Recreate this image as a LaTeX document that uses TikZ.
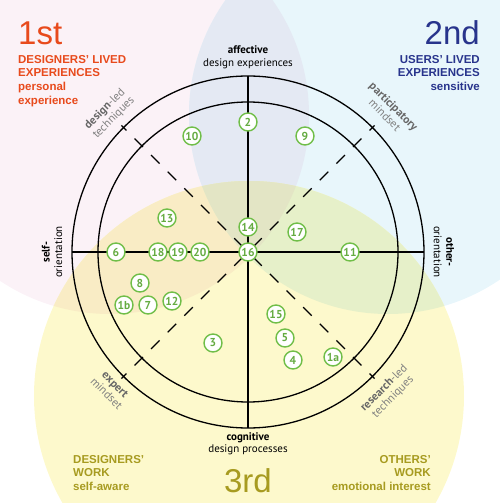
\documentclass[tikz,border=0pt]{standalone}
\usepackage{fontspec}
\setmainfont{PT Sans}
\newfontfamily\headfont{Liberation Sans}
\usetikzlibrary{positioning, calc}
\definecolor{firstred}{RGB}{232,74,28}
\definecolor{secondblue}{RGB}{40,52,140}
\definecolor{thirdolive}{RGB}{167,155,32}
\definecolor{pinkbg}{RGB}{251,242,247}
\definecolor{bluebg}{RGB}{232,246,251}
\definecolor{yellowbg}{RGB}{253,249,204}
\definecolor{pinkblue}{RGB}{228,233,243}
\definecolor{pinkyellow}{RGB}{249,236,197}
\definecolor{blueyellow}{RGB}{230,240,201}
\definecolor{allthree}{RGB}{227,229,197}
\definecolor{ideagreen}{RGB}{112,190,72}
\definecolor{labelgray}{RGB}{128,128,128}

\begin{document}
\begin{tikzpicture}[x=1pt, y=1pt,
  idea/.style={circle, draw=ideagreen, line width=1.4pt, fill=white, minimum size=18pt, inner sep=0pt,
    font=\fontsize{11.5}{11.5}\selectfont\bfseries, text=ideagreen!90!black},
  ring/.style={line width=1.3pt},
  axisline/.style={line width=1.3pt},
  diag/.style={line width=1.3pt, dash pattern=on 12pt off 11.5pt, dash phase=5pt},
  pole/.style={font=\fontsize{11}{12.5}\selectfont, align=center, inner sep=0pt},
  lens/.style={font=\fontsize{11.5}{12.5}\selectfont, text=labelgray, align=center, inner sep=0pt},
  head/.style={font=\headfont\fontsize{11.5}{13.7}\selectfont\bfseries, inner sep=0pt},
  big/.style={font=\headfont\fontsize{33}{33}\selectfont, inner sep=0pt}
]
\useasboundingbox (-248,-251) rectangle (252,252);

% the three perspectives
\def\pinkdisc{(-138,137) circle (199)}
\def\bluedisc{(140,137) circle (199)}
\def\yellowdisc{(1,-144) circle (215)}
\fill[pinkbg]   \pinkdisc;
\fill[bluebg]   \bluedisc;
\fill[yellowbg] \yellowdisc;
\begin{scope}
  \clip \pinkdisc;
  \fill[pinkblue] \bluedisc;
  \fill[pinkyellow] \yellowdisc;
\end{scope}
\begin{scope}
  \clip \bluedisc;
  \fill[blueyellow] \yellowdisc;
\end{scope}
\begin{scope}
  \clip \pinkdisc;
  \clip \bluedisc;
  \fill[allthree] \yellowdisc;
\end{scope}

% rings and axes
\coordinate (O) at (0,0);
\coordinate (top) at (90:176);
\coordinate (bottom) at (270:176);
\coordinate (left) at (180:176);
\coordinate (right) at (0:176);
\draw[ring] (O) circle (176);
\draw[ring] (O) circle (150);
\draw[axisline] (top) -- (bottom);
\draw[axisline] (left) -- (right);
\foreach \a in {45,135,225,315}
  \draw[diag] (\a:179) -- (O);

% numbered items
\node[idea] (n2)  at (0,130)     {2};
\node[idea] (n10) at (-56,116)   {10};
\node[idea] (n9)  at (57,116)    {9};
\node[idea] (n13) at (-81,34)    {13};
\node[idea] (n14) at (0,25)      {14};
\node[idea] (n16) at (0,0)       {16};
\node[idea] (n17) at (49,20)     {17};
\node[idea] (n6)  at (-132,0)    {6};
\node[idea] (n18) at (-90,0)     {18};
\node[idea] (n19) at (-70,0)     {19};
\node[idea] (n20) at (-48,0)     {20};
\node[idea] (n11) at (102,0)     {11};
\node[idea] (n8)  at (-108,-31)  {8};
\node[idea] (n1b) at (-124,-53)  {1b};
\node[idea] (n7)  at (-100,-53)  {7};
\node[idea] (n12) at (-76,-49)   {12};
\node[idea] (n3)  at (-35,-91)   {3};
\node[idea] (n15) at (28,-62)    {15};
\node[idea] (n5)  at (37,-86)    {5};
\node[idea] (n4)  at (45,-108)   {4};
\node[idea] (n1a) at (85,-105)   {1a};

% axis labels
\node[pole, anchor=south] (affective) at (0,183) {\textbf{affective}\\design experiences};
\node[pole, anchor=north] (cognitive) at (0,-180) {\textbf{cognitive}\\design processes};
\node[pole, rotate=90]  (selfor)  at (-196,0) {\textbf{self-}\\orientation};
\node[pole, rotate=-90] (otheror) at (196,0)  {\textbf{other-}\\orientation};

\node[lens, rotate=45]  (designled)   at (135:196) {\textcolor{labelgray!80!black}{\textbf{design}}-led\\techniques};
\node[lens, rotate=-45] (particip)    at (45:200)  {\textcolor{labelgray!80!black}{\textbf{participatory}}\\mindset};
\node[lens, rotate=-45] (expert)      at (225:194) {\textcolor{labelgray!80!black}{\textbf{expert}}\\mindset};
\node[lens, rotate=45]  (researchled) at (315:199) {\textcolor{labelgray!80!black}{\textbf{research}}-led\\techniques};

% perspectives
\node[big, anchor=base west, text=firstred] (first) at (-230,207) {1st};
\node[head, anchor=north west, align=left, text=firstred] (firsttxt) at (-230,197)
  {DESIGNERS’ LIVED\\EXPERIENCES\\personal\\experience};
\node[big, anchor=base east, text=secondblue] (second) at (232,207) {2nd};
\node[head, anchor=north east, align=right, text=secondblue] (secondtxt) at (232,197)
  {USERS’ LIVED\\EXPERIENCES\\sensitive};
\node[head, anchor=north west, align=left, text=thirdolive] (thirdl) at (-175,-203)
  {DESIGNERS’\\WORK\\self-aware};
\node[head, anchor=north east, align=right, text=thirdolive] (thirdr) at (183,-203)
  {OTHERS’\\WORK\\emotional interest};
\node[big, anchor=base, text=thirdolive] (third) at (0,-240) {3rd};
\end{tikzpicture}
\end{document}
